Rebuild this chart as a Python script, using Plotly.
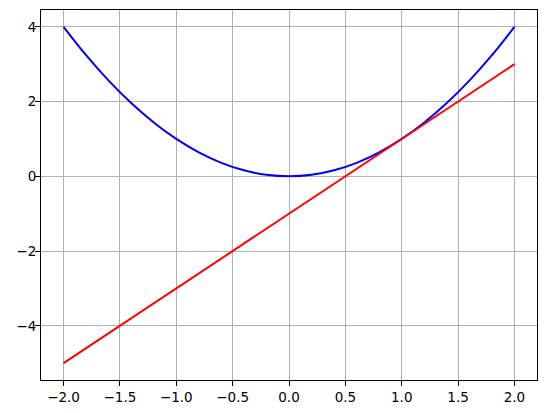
import plotly.graph_objects as go

# Blue curve points
curve_x = [-2.0, -1.8, -1.6, -1.4, -1.2, -1.0, -0.8, -0.6, -0.4, -0.2, 0.0,
           0.2, 0.4, 0.6, 0.8, 1.0, 1.2, 1.4, 1.6, 1.8, 2.0]
curve_y = [4.0, 3.24, 2.56, 1.96, 1.44, 1.0, 0.64, 0.36, 0.16, 0.04, 0.0,
           0.04, 0.16, 0.36, 0.64, 1.0, 1.44, 1.96, 2.56, 3.24, 4.0]

# Red line endpoints
line_x = [-2.0, 2.0]
line_y = [-5.0, 3.0]

x_ticks = [-2.0, -1.5, -1.0, -0.5, 0.0, 0.5, 1.0, 1.5, 2.0]
y_ticks = [-4, -2, 0, 2, 4]

fig = go.Figure()
fig.add_trace(go.Scatter(x=curve_x, y=curve_y, mode="lines",
                         line=dict(color="blue", width=2, shape="spline"),
                         showlegend=False))
fig.add_trace(go.Scatter(x=line_x, y=line_y, mode="lines",
                         line=dict(color="red", width=2),
                         showlegend=False))

axis_common = dict(
    showgrid=True, gridcolor="#b0b0b0", gridwidth=1,
    zeroline=False, showline=True, linecolor="black", linewidth=1,
    mirror=True, ticks="outside", ticklen=5, tickcolor="black", tickwidth=1,
    tickfont=dict(family="DejaVu Sans", size=13.5, color="black"),
    automargin=False,
)

# page body has an 8px default margin; figure sized to fill the window exactly
fig.update_layout(
    width=530, height=397,
    margin=dict(l=33, r=1, t=2, b=25, autoexpand=False),
    paper_bgcolor="white", plot_bgcolor="white",
    xaxis=dict(range=[-2.2, 2.2], tickvals=x_ticks,
               ticktext=[("\u2212" if v < 0 else "") + f"{abs(v):.1f}" for v in x_ticks],
               **axis_common),
    yaxis=dict(range=[-5.45, 4.45], tickvals=y_ticks,
               ticktext=[("\u2212" if v < 0 else "") + f"{abs(v)}" for v in y_ticks],
               ticklabelstandoff=-4,
               **axis_common),
)

fig.write_html("out.html")
